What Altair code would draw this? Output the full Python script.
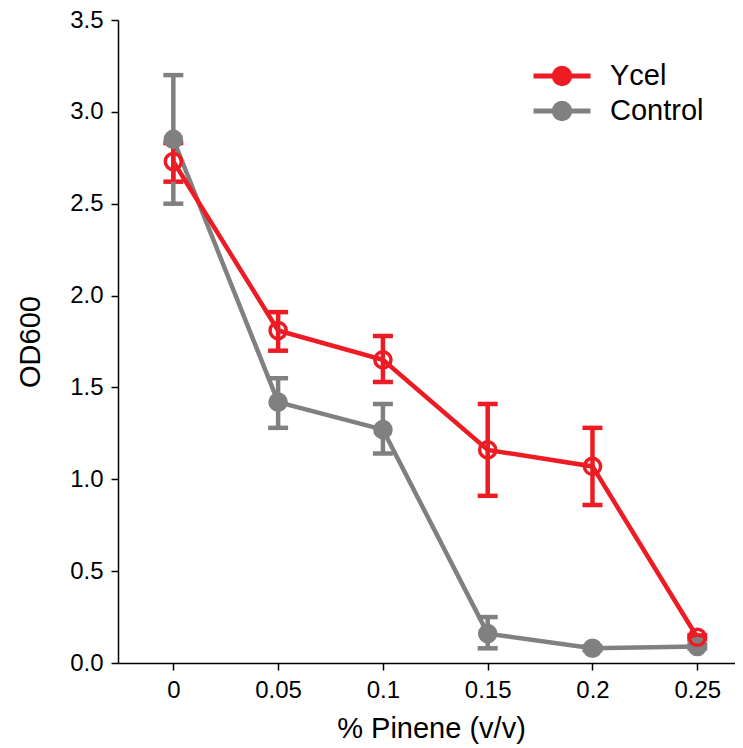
import altair as alt
import pandas as pd

pinene = [0, 0.05, 0.1, 0.15, 0.2, 0.25]
series_names = ["Ycel", "Control"]

ycel_mean = [2.73, 1.81, 1.65, 1.16, 1.07, 0.14]
ycel_lo = [2.62, 1.70, 1.53, 0.91, 0.86, 0.13]
ycel_hi = [2.83, 1.91, 1.78, 1.41, 1.28, 0.15]

ctrl_mean = [2.85, 1.42, 1.27, 0.16, 0.08, 0.09]
ctrl_lo = [2.50, 1.28, 1.14, 0.08, 0.07, 0.08]
ctrl_hi = [3.20, 1.55, 1.41, 0.25, 0.09, 0.10]

RED = "#ED1C24"
GRAY = "#808080"
FONT = "Liberation Sans"

rows = []
for x, m, lo, hi in zip(pinene, ctrl_mean, ctrl_lo, ctrl_hi):
    rows.append({"x": x, "y": m, "lo": lo, "hi": hi, "s": "Control", "o": 0})
for x, m, lo, hi in zip(pinene, ycel_mean, ycel_lo, ycel_hi):
    rows.append({"x": x, "y": m, "lo": lo, "hi": hi, "s": "Ycel", "o": 1})
df = pd.DataFrame(rows)

xscale = alt.Scale(domain=[-0.0264, 0.268], nice=False, zero=False)
yscale = alt.Scale(domain=[0, 3.5], nice=False)

x_enc = alt.X("x:Q", scale=xscale, title="% Pinene (v/v)",
              axis=alt.Axis(values=pinene, labelExpr="format(datum.value, '~g')",
                            titleX=313, labelPadding=8, titlePadding=12))
y_enc = alt.Y("y:Q", scale=yscale, title="OD600",
              axis=alt.Axis(values=[0, 0.5, 1, 1.5, 2, 2.5, 3, 3.5], format=".1f",
                            labelPadding=8, titlePadding=24))

cscale = alt.Scale(domain=series_names, range=[RED, GRAY])
fscale = alt.Scale(domain=series_names, range=["transparent", GRAY])

# legend glyph: a line with a circle on it (path drawn twice as wide as its nominal box)
sym_path = ("M-2,0H2M-0.54,0A0.54,0.54,0,1,1,0.54,0"
            "A0.54,0.54,0,1,1,-0.54,0Z")

legend = alt.Legend(
    title=None, orient="none", legendX=427, legendY=39, padding=0,
    symbolType=sym_path, symbolSize=812, symbolStrokeWidth=5,
    labelFontSize=29, labelFont=FONT, labelColor="black",
    labelOffset=31, rowPadding=-1,
)

base = alt.Chart(df)

lines = base.mark_line(strokeWidth=4.5).encode(
    x=x_enc, y=y_enc,
    color=alt.Color("s:N", scale=cscale, legend=legend, title=None),
    order="x:Q",
    detail="s:N",
)

errs = base.mark_errorbar(ticks={"opacity": 1}, rule={"opacity": 1},
                          size=20, thickness=4.5).encode(
    x=alt.X("x:Q", scale=xscale),
    y=alt.Y("lo:Q", scale=yscale, title="OD600"),
    y2="hi:Q",
    color=alt.Color("s:N", scale=cscale, legend=legend, title=None),
)

points = base.mark_point(filled=True, size=260, strokeWidth=3.5, opacity=1).encode(
    x=alt.X("x:Q", scale=xscale),
    y=alt.Y("y:Q", scale=yscale),
    stroke=alt.Stroke("s:N", scale=cscale, legend=legend, title=None),
    fill=alt.Fill("s:N", scale=fscale, legend=legend, title=None),
    order="o:Q",
)

chart = alt.layer(lines, errs, points).properties(
    width=617, height=643,
    autosize=alt.AutoSizeParams(type="none"),
    padding={"left": 110, "top": 12, "right": 0, "bottom": 81},
).configure_view(stroke=None).configure_axis(
    grid=False, domainColor="black", domainWidth=1.5,
    tickColor="black", tickWidth=1.5, tickSize=7,
    labelFont=FONT, labelFontSize=24, labelColor="black",
    titleFont=FONT, titleFontSize=29, titleFontWeight="normal", titleColor="black",
)

chart.save("out.html", embed_options={"renderer": "svg", "actions": False})
